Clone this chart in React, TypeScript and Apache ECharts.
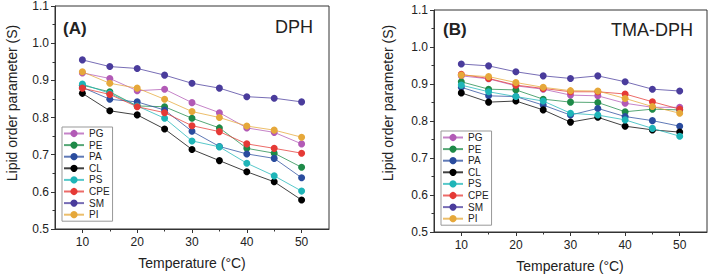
import React, { useEffect, useRef } from "react";
import * as echarts from "echarts";

const temps = [10, 15, 20, 25, 30, 35, 40, 45, 50];
const lipidNames = ["PG", "PE", "PA", "CL", "PS", "CPE", "SM", "PI"];
const lipidColors = ["#B25AB6", "#1E8A48", "#2A4C9E", "#000000", "#1FB5B8", "#E53A36", "#4A3C9C", "#E6A83A"];

// DPH panel (A)
const dphPG = [0.920, 0.905, 0.872, 0.876, 0.840, 0.813, 0.772, 0.760, 0.729];
const dphPE = [0.887, 0.869, 0.831, 0.829, 0.798, 0.772, 0.717, 0.704, 0.666];
const dphPA = [0.881, 0.849, 0.842, 0.820, 0.763, 0.722, 0.702, 0.690, 0.638];
const dphCL = [0.865, 0.818, 0.807, 0.769, 0.714, 0.684, 0.654, 0.627, 0.578];
const dphPS = [0.890, 0.865, 0.831, 0.798, 0.737, 0.721, 0.677, 0.643, 0.602];
const dphCPE = [0.879, 0.862, 0.829, 0.813, 0.778, 0.762, 0.729, 0.717, 0.704];
const dphSM = [0.955, 0.937, 0.932, 0.914, 0.892, 0.879, 0.856, 0.852, 0.842];
const dphPI = [0.923, 0.892, 0.879, 0.849, 0.816, 0.800, 0.777, 0.766, 0.747];

// TMA-DPH panel (B)
const tmaPG = [0.922, 0.914, 0.895, 0.886, 0.870, 0.868, 0.848, 0.837, 0.837];
const tmaPE = [0.906, 0.886, 0.884, 0.859, 0.851, 0.850, 0.825, 0.832, 0.830];
const tmaPA = [0.891, 0.868, 0.866, 0.843, 0.816, 0.834, 0.812, 0.801, 0.786];
const tmaCL = [0.876, 0.851, 0.854, 0.830, 0.797, 0.810, 0.786, 0.776, 0.770];
const tmaPS = [0.897, 0.879, 0.866, 0.854, 0.821, 0.816, 0.803, 0.780, 0.759];
const tmaCPE = [0.926, 0.915, 0.897, 0.888, 0.879, 0.879, 0.873, 0.852, 0.832];
const tmaSM = [0.954, 0.949, 0.933, 0.922, 0.915, 0.922, 0.906, 0.886, 0.881];
const tmaPI = [0.924, 0.920, 0.904, 0.891, 0.882, 0.881, 0.861, 0.839, 0.821];

const xMajorTicks = [10, 20, 30, 40, 50];
const xMinorTicks = [15, 25, 35, 45];

const dphSets = [dphPG, dphPE, dphPA, dphCL, dphPS, dphCPE, dphSM, dphPI];
const tmaSets = [tmaPG, tmaPE, tmaPA, tmaCL, tmaPS, tmaCPE, tmaSM, tmaPI];

const FONT = "Liberation Sans, Arial, sans-serif";
const AX = "#333";

export default function App() {
  const ref = useRef<HTMLDivElement>(null);
  useEffect(() => {
    if (!ref.current) return;
    const chart = echarts.init(ref.current, null, { renderer: "svg" });

    const grids = [
      { left: 55, top: 6, width: 274, height: 223 },
      { left: 434, top: 10, width: 273, height: 222 },
    ];

    const xAxes: any[] = [];
    const yAxes: any[] = [];
    grids.forEach((_, gi) => {
      xAxes.push({
        type: "value",
        gridIndex: gi,
        min: 5,
        max: 55,
        axisLine: { show: true, lineStyle: { color: AX, width: 1 } },
        axisTick: { show: true, length: 4, customValues: xMajorTicks, lineStyle: { color: AX } },
        axisLabel: { customValues: xMajorTicks, fontSize: 12, color: "#222", fontFamily: FONT, margin: 7 },
        splitLine: { show: false },
      });
      xAxes.push({
        type: "value",
        gridIndex: gi,
        position: "bottom",
        min: 5,
        max: 55,
        axisLine: { show: false },
        axisTick: { show: true, length: 2.5, customValues: xMinorTicks, lineStyle: { color: AX } },
        axisLabel: { show: false },
        splitLine: { show: false },
      });
      yAxes.push({
        type: "value",
        gridIndex: gi,
        min: 0.5,
        max: 1.1,
        interval: 0.1,
        axisLine: { show: true, lineStyle: { color: AX, width: 1 } },
        axisTick: { show: true, length: 4, lineStyle: { color: AX } },
        minorTick: { show: true, splitNumber: 2, length: 2.5, lineStyle: { color: AX } },
        axisLabel: {
          fontSize: 12,
          color: "#222",
          fontFamily: FONT,
          margin: 6,
          formatter: (v: number) => v.toFixed(1),
        },
        splitLine: { show: false },
        minorSplitLine: { show: false },
      });
    });

    const series: any[] = [];
    [dphSets, tmaSets].forEach((sets, gi) => {
      sets.forEach((vals, i) => {
        series.push({
          type: "line",
          name: lipidNames[i],
          xAxisIndex: gi * 2,
          yAxisIndex: gi,
          data: temps.map((t, k) => [t, vals[k]]),
          symbol: "circle",
          symbolSize: 7,
          showSymbol: true,
          lineStyle: { color: lipidColors[i], width: 1, opacity: 0.75 },
          itemStyle: { color: lipidColors[i] },
          color: lipidColors[i],
          z: 2 + i,
        });
      });
    });

    const legendCommon = {
      orient: "vertical",
      data: lipidNames,
      itemWidth: 20,
      itemHeight: 9,
      itemGap: 1.6,
      padding: [1.5, 3, 1.5, 1],
      borderColor: "#999",
      borderWidth: 1,
      backgroundColor: "#fff",
      textStyle: { fontSize: 10, color: "#222", fontFamily: FONT, lineHeight: 9 },
      selectedMode: false,
    };

    const textStyle = (size: number, weight: string = "normal") => ({
      fontSize: size,
      fontWeight: weight,
      fontFamily: FONT,
      fill: "#222",
    });

    chart.setOption({
      animation: false,
      backgroundColor: "#fff",
      grid: grids.map((g) => ({ ...g, show: true, borderColor: AX, borderWidth: 1, backgroundColor: "transparent" })),
      xAxis: xAxes,
      yAxis: yAxes,
      legend: [
        { ...legendCommon, left: 62, top: 127 },
        { ...legendCommon, left: 441, top: 131 },
      ],
      series,
      graphic: [
        { type: "text", x: 63, y: 28, style: { text: "(A)", ...textStyle(17, "bold"), textAlign: "left", textVerticalAlign: "middle" } },
        { type: "text", x: 313, y: 27, style: { text: "DPH", ...textStyle(18), textAlign: "right", textVerticalAlign: "middle" } },
        { type: "text", x: 443, y: 29, style: { text: "(B)", ...textStyle(17, "bold"), textAlign: "left", textVerticalAlign: "middle" } },
        { type: "text", x: 693, y: 30, style: { text: "TMA-DPH", ...textStyle(18), textAlign: "right", textVerticalAlign: "middle" } },
        { type: "text", x: 12, y: 103, rotation: Math.PI / 2, style: { text: "Lipid order parameter (S)", ...textStyle(14), textAlign: "center", textVerticalAlign: "middle" } },
        { type: "text", x: 388, y: 103, rotation: Math.PI / 2, style: { text: "Lipid order parameter (S)", ...textStyle(14), textAlign: "center", textVerticalAlign: "middle" } },
        { type: "text", x: 192, y: 263, style: { text: "Temperature (°C)", ...textStyle(14), textAlign: "center", textVerticalAlign: "middle" } },
        { type: "text", x: 570, y: 266, style: { text: "Temperature (°C)", ...textStyle(14), textAlign: "center", textVerticalAlign: "middle" } },
      ],
    });
    return () => chart.dispose();
  }, []);
  return <div ref={ref} style={{ position: "fixed", left: 0, top: 0, width: 709, height: 276 }} />;
}
